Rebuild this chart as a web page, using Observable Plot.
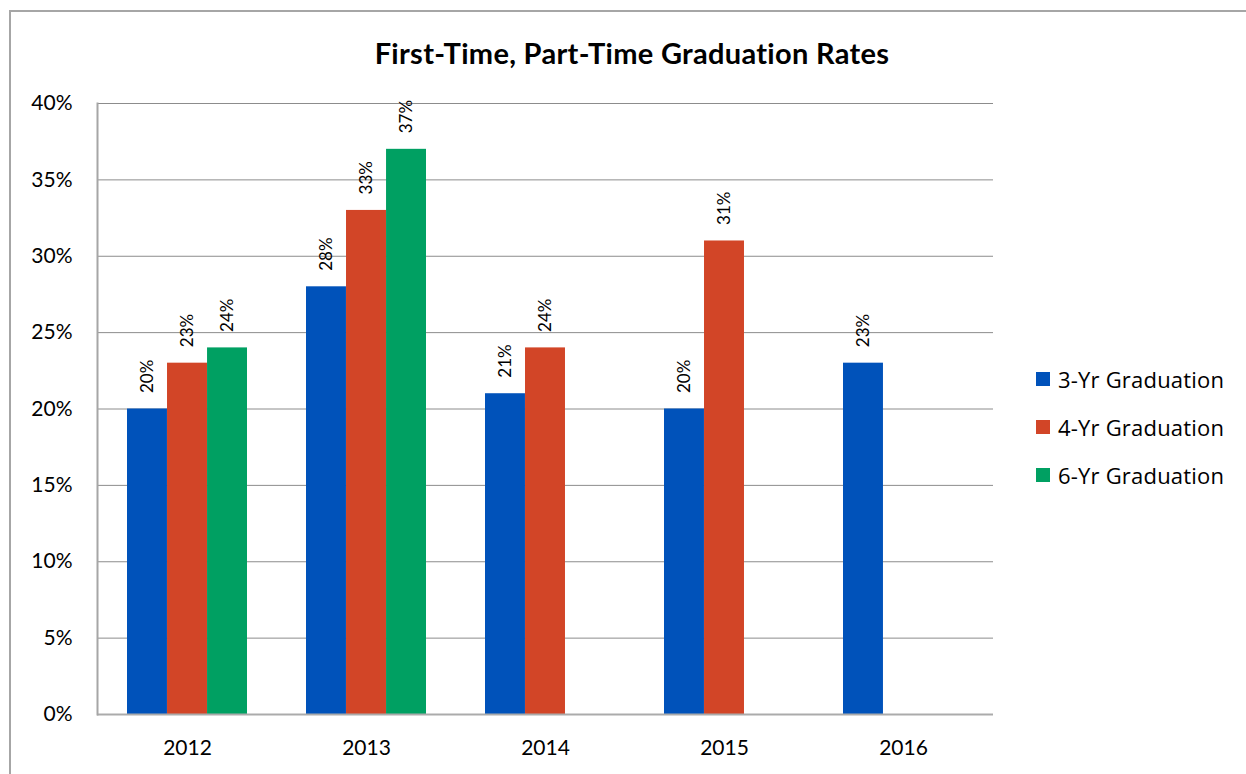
<!DOCTYPE html>
<html>
<head>
<meta charset="utf-8">
<script src="https://cdn.jsdelivr.net/npm/d3@7"></script>
<script src="https://cdn.jsdelivr.net/npm/@observablehq/plot@0.6"></script>
<style>
  html, body { margin: 0; padding: 0; background: #fff; }
  body { font-family: Lato, "Open Sans", sans-serif; }
  #wrap { position: relative; width: 1246px; height: 774px; overflow: hidden; }
  #border { position: absolute; left: 9px; top: 10px; width: 1400px; height: 900px;
            border-left: 2px solid #a6a6a6; border-top: 2px solid #a6a6a6; box-sizing: border-box; }
  #title { position: absolute; left: 0; width: 1264px; top: 38px; line-height: 29px; text-align: center;
           font-weight: 700; font-size: 29px; letter-spacing: 0.3px; color: #000; }
  #chart { position: absolute; left: 0; top: 0; }
  #legend { position: absolute; left: 1036px; top: 367px; font-family: "Open Sans", sans-serif; }
  .item { display: flex; align-items: center; height: 24px; margin-bottom: 24px; font-size: 22px; letter-spacing: 0.2px; color: #000; }
  .sw { width: 14px; height: 14px; margin-right: 8px; }
</style>
</head>
<body>
<div id="wrap">
  <div id="border"></div>
  <div id="title">First-Time, Part-Time Graduation Rates</div>
  <div id="chart"></div>
  <div id="legend"></div>
</div>
<script>
const years = ["2012", "2013", "2014", "2015", "2016"];
const series = ["3-Yr Graduation", "4-Yr Graduation", "6-Yr Graduation"];
const grad3 = [20, 28, 21, 20, 23];
const grad4 = [23, 33, 24, 31, null];
const grad6 = [24, 37, null, null, null];
const colors = ["#0052BA", "#D24527", "#00A062"];
const yTicks = [0, 5, 10, 15, 20, 25, 30, 35, 40];

const values = [grad3, grad4, grad6];
const rows = [];
series.forEach((s, i) => years.forEach((y, j) => {
  if (values[i][j] != null) rows.push({year: y, series: s, value: values[i][j], idx: i});
}));

const W = 1010, mL = 97, mR = 17;
const paddingInner = 0.33, paddingOuter = 0.165;
const step = (W - mL - mR) / (years.length - paddingInner + 2 * paddingOuter);
const bw = step * (1 - paddingInner);
const barW = bw / 3;

const barMarks = series.map((s, i) => Plot.barY(rows.filter(d => d.idx === i), {
  x: "year", y: "value", fill: "series",
  insetLeft: barW * i, insetRight: barW * (2 - i)
}));
const labelMarks = series.map((s, i) => Plot.text(rows.filter(d => d.idx === i), {
  x: "year", y: "value", text: d => d.value + "%",
  dx: (i - 1) * barW, dy: -16, rotate: -90, textAnchor: "start",
  fontSize: 17, fill: "#000"
}));

const plot = Plot.plot({
  width: W, height: 774,
  marginLeft: mL, marginRight: mR, marginTop: 103, marginBottom: 60,
  style: {fontFamily: "Lato, 'Open Sans', sans-serif", background: "transparent", color: "#000"},
  x: {domain: years, paddingInner, paddingOuter, axis: null, label: null},
  y: {domain: [0, 40], axis: null, label: null},
  color: {domain: series, range: colors},
  marks: [
    Plot.gridY(yTicks, {stroke: "#8c8c8c", strokeOpacity: 1}),
    ...barMarks,
    Plot.ruleY([0], {stroke: "#ababab", strokeWidth: 2}),
    Plot.axisY(yTicks, {tickSize: 0, tickPadding: 25, fontSize: 21, tickFormat: d => d + "%", fill: "#000", label: null}),
    Plot.axisX({tickSize: 0, tickPadding: 26, fontSize: 21, fill: "#000", label: null}),
    Plot.frame({anchor: "left", stroke: "#a6a6a6", strokeWidth: 2}),
    ...labelMarks
  ]
});
document.getElementById("chart").appendChild(plot);

const color = plot.scale("color");
const legend = document.getElementById("legend");
series.forEach((s, i) => {
  const item = document.createElement("div");
  item.className = "item";
  const sw = document.createElement("div");
  sw.className = "sw";
  sw.style.background = color.range[i];
  const t = document.createElement("span");
  t.textContent = s;
  item.appendChild(sw); item.appendChild(t);
  legend.appendChild(item);
});
</script>
</body>
</html>
